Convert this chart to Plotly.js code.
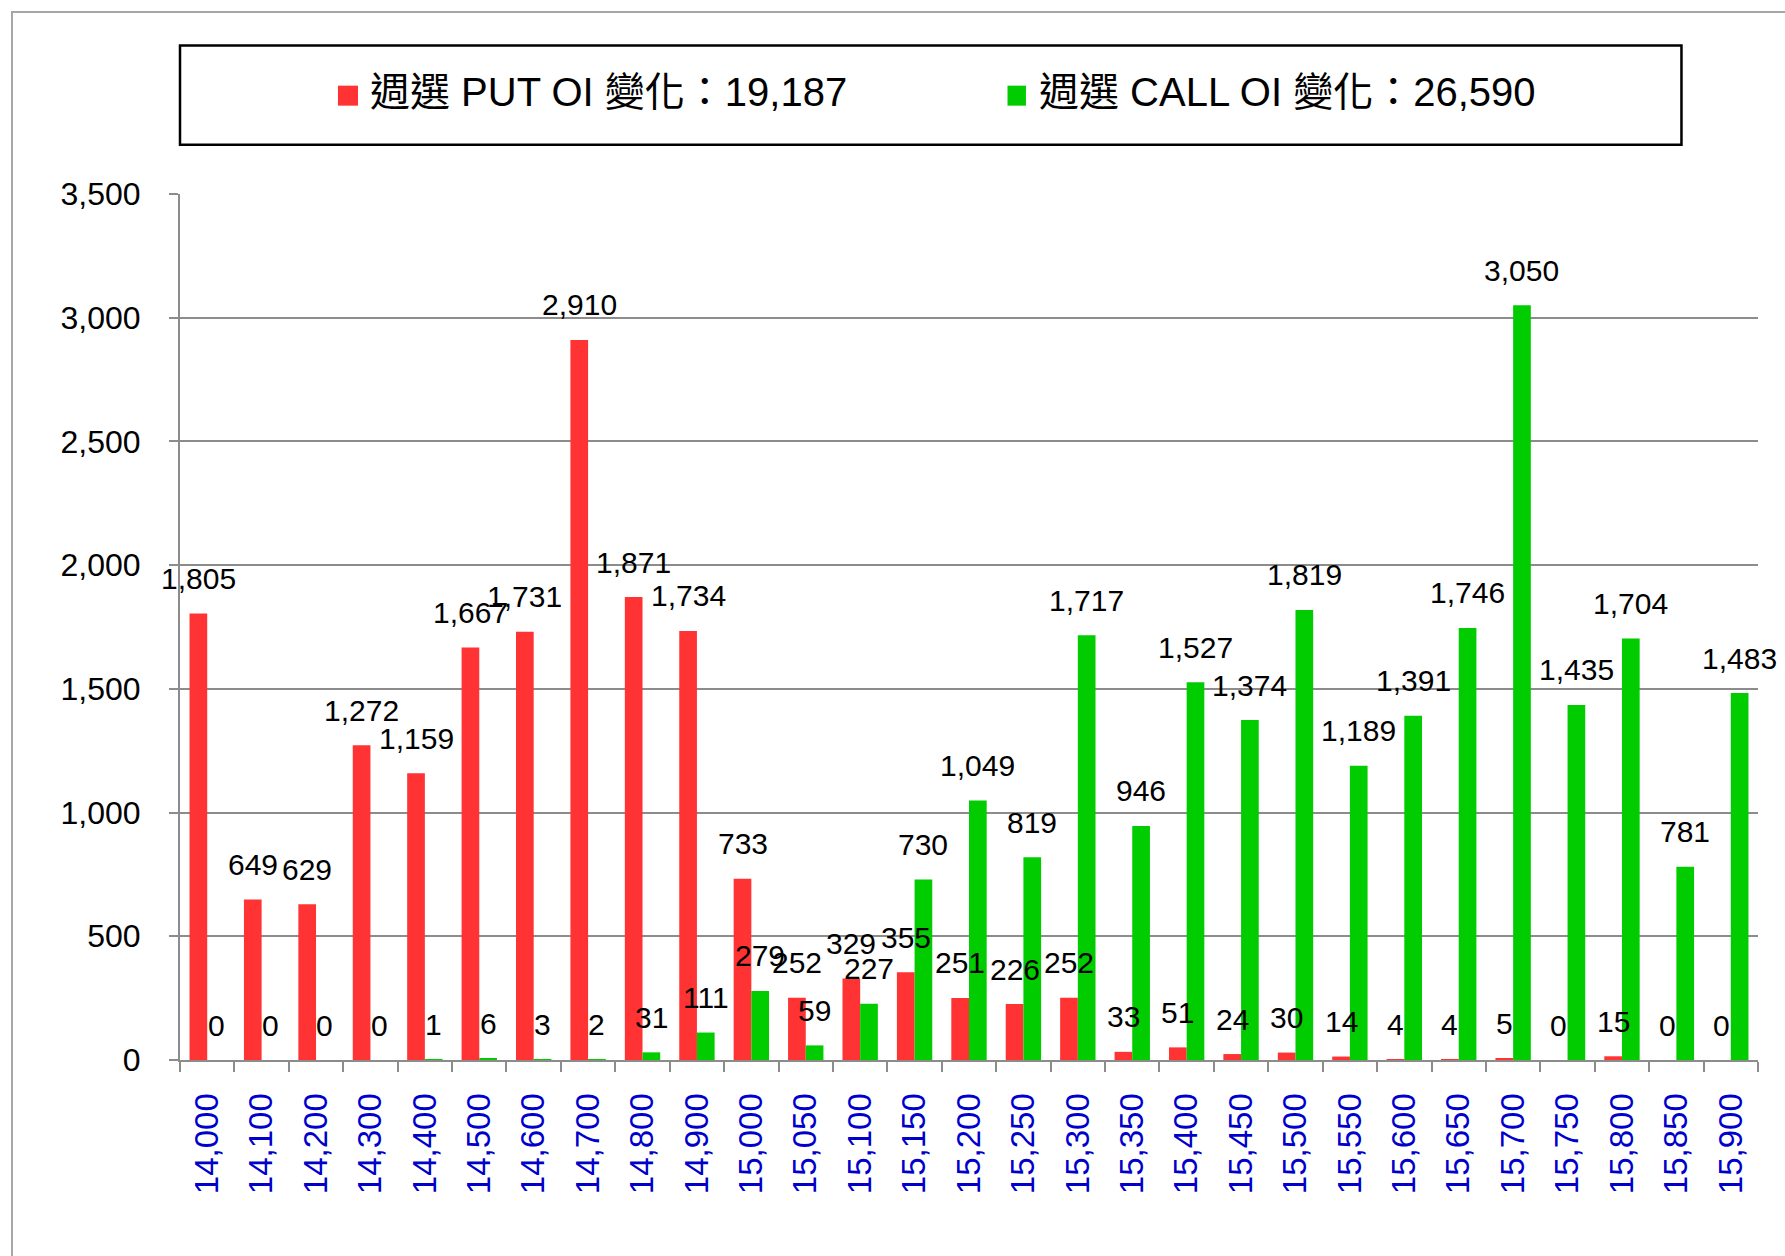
<!DOCTYPE html>
<html>
<head>
<meta charset="utf-8">
<script src="https://cdn.plot.ly/plotly-3.0.1.min.js"></script>
<style>
  html, body { margin: 0; padding: 0; background: #ffffff; }
  #wrap { position: relative; width: 1785px; height: 1256px; overflow: hidden; }
  #chart { position: absolute; left: 0; top: 0; width: 1785px; height: 1256px; }
  #frame { position: absolute; left: 11px; top: 11px; width: 1900px; height: 1400px;
           border-left: 2px solid #a6a6a6; border-top: 2px solid #a6a6a6; pointer-events: none; }
</style>
</head>
<body>
<div id="wrap">
  <div id="chart"></div>
  <div id="frame"></div>
</div>
<script>
// ---- data ----
const strikes = ['14,000','14,100','14,200','14,300','14,400','14,500','14,600','14,700','14,800','14,900',
                 '15,000','15,050','15,100','15,150','15,200','15,250','15,300','15,350','15,400','15,450',
                 '15,500','15,550','15,600','15,650','15,700','15,750','15,800','15,850','15,900'];
const putOI  = [1805, 649, 629, 1272, 1159, 1667, 1731, 2910, 1871, 1734,
                733, 252, 329, 355, 251, 226, 252, 33, 51, 24,
                30, 14, 4, 4, 5, 0, 15, 0, 0];
const callOI = [0, 0, 0, 0, 1, 6, 3, 2, 31, 111,
                279, 59, 227, 730, 1049, 819, 1717, 946, 1527, 1374,
                1819, 1189, 1391, 1746, 3050, 1435, 1704, 781, 1483];
const putName = '週選 PUT OI 變化';
const callName = '週選 CALL OI 變化';
const putTotal = 19187;
const callTotal = 26590;
const yTicks = [0, 500, 1000, 1500, 2000, 2500, 3000, 3500];

// ---- style ----
const FONT = 'Liberation Sans, Arial, "Noto Sans CJK TC", sans-serif';
const RED = '#FF3333';
const GREEN = '#00CC00';
const GRID = '#8c8c8c';
const BARGAP = 0.35;
const fmt = v => v.toLocaleString('en-US');

const traces = [
  { type: 'bar', name: putName, x: strikes, y: putOI,
    marker: { color: RED, line: { width: 0 } }, hoverinfo: 'x+y' },
  { type: 'bar', name: callName, x: strikes, y: callOI,
    marker: { color: GREEN, line: { width: 0 } }, hoverinfo: 'x+y' }
];

const off = (1 - BARGAP) / 4;
const annotations = [];
strikes.forEach((s, i) => {
  annotations.push({ x: i - off, y: putOI[i], xref: 'x', yref: 'y', text: fmt(putOI[i]),
    showarrow: false, yanchor: 'middle', xanchor: 'center', yshift: 35,
    font: { family: FONT, size: 30, color: '#000000' } });
  annotations.push({ x: i + off, y: callOI[i], xref: 'x', yref: 'y', text: fmt(callOI[i]),
    showarrow: false, yanchor: 'middle', xanchor: 'center', yshift: 35,
    font: { family: FONT, size: 30, color: '#000000' } });
});

// legend texts (drawn manually)
annotations.push({ xref: 'paper', yref: 'paper', x: 0.1191, y: 1.1175, xanchor: 'left', yanchor: 'middle',
  text: putName + '：' + fmt(putTotal), showarrow: false,
  font: { family: FONT, size: 40, color: '#000000' } });
annotations.push({ xref: 'paper', yref: 'paper', x: 0.5431, y: 1.1175, xanchor: 'left', yanchor: 'middle',
  text: callName + '：' + fmt(callTotal), showarrow: false,
  font: { family: FONT, size: 40, color: '#000000' } });

const shapes = [
  { type: 'rect', xref: 'paper', yref: 'paper', x0: 0, x1: 0.9515, y0: 1.057, y1: 1.1715,
    line: { color: '#000000', width: 2.5 }, fillcolor: 'rgba(0,0,0,0)' },
  { type: 'rect', xref: 'paper', yref: 'paper', x0: 0.1001, x1: 0.1128, y0: 1.1020, y1: 1.1251,
    line: { width: 0 }, fillcolor: RED },
  { type: 'rect', xref: 'paper', yref: 'paper', x0: 0.5244, x1: 0.5361, y0: 1.1020, y1: 1.1251,
    line: { width: 0 }, fillcolor: GREEN }
];

const layout = {
  width: 1785, height: 1256,
  margin: { l: 180, r: 27, t: 194, b: 196, pad: 0 },
  paper_bgcolor: '#ffffff', plot_bgcolor: '#ffffff',
  barmode: 'group', bargap: BARGAP, bargroupgap: 0,
  showlegend: false,
  font: { family: FONT, color: '#000000' },
  xaxis: {
    type: 'category', tickangle: -90, range: [-0.5, strikes.length - 0.5],
    showline: true, linecolor: GRID, linewidth: 2,
    ticks: 'outside', ticklen: 10, tickwidth: 2, tickcolor: GRID, tickson: 'boundaries',
    ticklabelstandoff: 18,
    tickfont: { family: FONT, size: 33, color: '#0000CC' },
    showgrid: false, zeroline: false, automargin: false
  },
  yaxis: {
    range: [0, 3500], tickvals: yTicks, ticktext: yTicks.map(fmt),
    showline: true, linecolor: GRID, linewidth: 2,
    ticks: 'outside', ticklen: 9, tickwidth: 2, tickcolor: GRID,
    ticklabelstandoff: 22,
    showgrid: true, gridcolor: GRID, gridwidth: 2,
    zeroline: false,
    tickfont: { family: FONT, size: 32, color: '#000000' },
    automargin: false
  },
  annotations: annotations,
  shapes: shapes
};

Plotly.newPlot('chart', traces, layout, { displayModeBar: false, responsive: false });
</script>
</body>
</html>
